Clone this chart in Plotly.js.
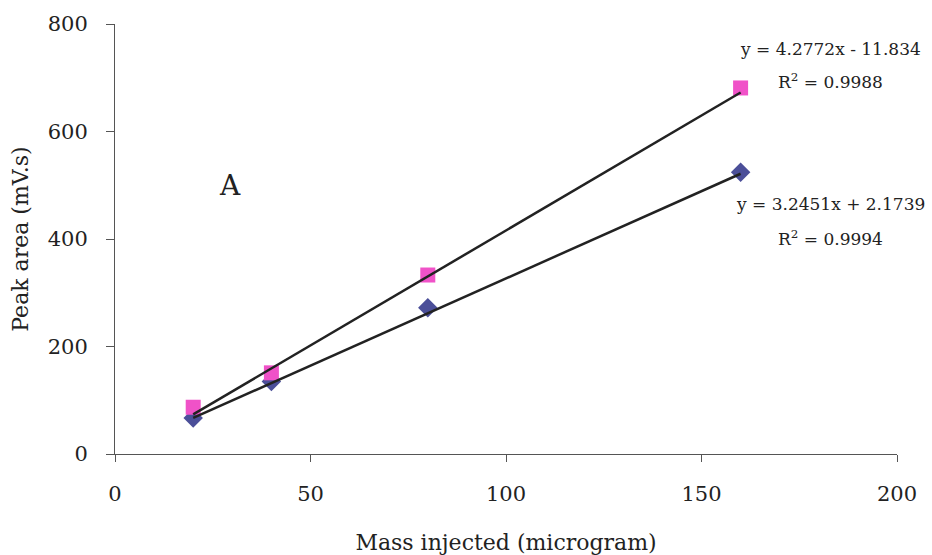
<!DOCTYPE html>
<html>
<head>
<meta charset="utf-8">
<script src="https://cdn.plot.ly/plotly-3.0.1.min.js"></script>
<style>html,body{margin:0;padding:0;background:#fff;}#chart{width:932px;height:555px;}</style>
</head>
<body>
<div id="chart"></div>
<script>
// Data
const massInjected = [20, 40, 80, 160];
const seriesPink = [87, 151, 333, 681];
const seriesBlue = [67, 135, 272, 524];
// Trendline coefficients as printed on the chart
const trendPink = {slope: 4.2772, intercept: -11.834};
const trendBlue = {slope: 3.2451, intercept: 2.1739};
const trendRange = [20, 160];
const xTicks = [0, 50, 100, 150, 200];
const yTicks = [0, 200, 400, 600, 800];

const font = "'DejaVu Serif', 'Liberation Serif', serif";
const ink = '#222';

function trend(t) {
  return {x: trendRange, y: trendRange.map(v => t.slope * v + t.intercept)};
}
const tp = trend(trendPink), tb = trend(trendBlue);

const data = [
  {x: massInjected, y: seriesBlue, mode: 'markers', type: 'scatter',
   marker: {symbol: 'diamond', size: 15, color: '#4b4f99'}},
  {x: massInjected, y: seriesPink, mode: 'markers', type: 'scatter',
   marker: {symbol: 'square', size: 15, color: '#f052c8'}},
  {x: tb.x, y: tb.y, mode: 'lines', type: 'scatter', line: {color: ink, width: 2.5}},
  {x: tp.x, y: tp.y, mode: 'lines', type: 'scatter', line: {color: ink, width: 2.5}}
];

function px(x) { return (x - 115) / 782; }
function py(y) { return (454 - y) / 430; }
const annFont = {family: font, size: 17, color: ink};

const layout = {
  width: 932, height: 555,
  paper_bgcolor: '#fff', plot_bgcolor: '#fff',
  showlegend: false,
  margin: {l: 115, r: 35, t: 24, b: 101},
  font: {family: font, color: ink, size: 21},
  xaxis: {
    range: [0, 200], tickvals: xTicks, ticktext: xTicks.map(String),
    showgrid: false, zeroline: false, showline: true, linecolor: '#555', linewidth: 1,
    ticks: 'outside', ticklen: 7, tickcolor: '#555',
    ticklabelstandoff: 14,
    tickfont: {family: font, size: 21, color: ink},
    title: {text: 'Mass injected (microgram)', font: {family: font, size: 22, color: ink}, standoff: 29}
  },
  yaxis: {
    range: [0, 800], tickvals: yTicks, ticktext: yTicks.map(String),
    showgrid: false, zeroline: false, showline: true, linecolor: '#555', linewidth: 1,
    ticks: 'outside', ticklen: 8, tickcolor: '#555',
    ticklabelstandoff: 14,
    tickfont: {family: font, size: 21, color: ink},
    title: {text: 'Peak area (mV.s)', font: {family: font, size: 22, color: ink}, standoff: 13}
  },
  annotations: [
    {xref: 'paper', yref: 'paper', x: px(230), y: py(185), xanchor: 'center', yanchor: 'middle',
     text: 'A', showarrow: false, font: {family: font, size: 28, color: ink}},
    {xref: 'paper', yref: 'paper', x: px(830), y: py(49), xanchor: 'center', yanchor: 'middle',
     text: 'y = 4.2772x - 11.834', showarrow: false, font: annFont},
    {xref: 'paper', yref: 'paper', x: px(830), y: py(81), xanchor: 'center', yanchor: 'middle',
     text: 'R<sup>2</sup> = 0.9988', showarrow: false, font: annFont},
    {xref: 'paper', yref: 'paper', x: px(830), y: py(204), xanchor: 'center', yanchor: 'middle',
     text: 'y = 3.2451x + 2.1739', showarrow: false, font: annFont},
    {xref: 'paper', yref: 'paper', x: px(830), y: py(238), xanchor: 'center', yanchor: 'middle',
     text: 'R<sup>2</sup> = 0.9994', showarrow: false, font: annFont}
  ]
};

Plotly.newPlot('chart', data, layout, {displayModeBar: false, staticPlot: true});
</script>
</body>
</html>
